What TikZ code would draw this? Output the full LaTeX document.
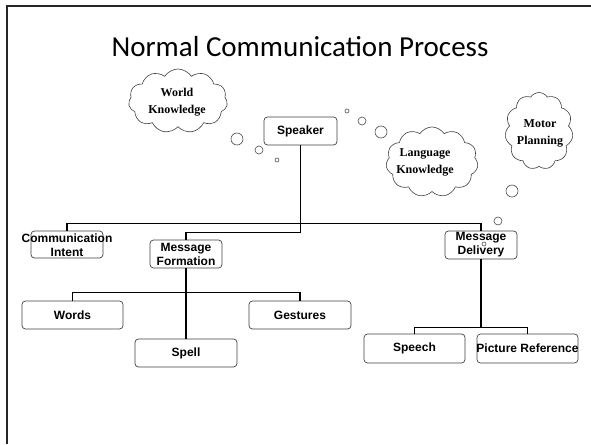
\documentclass[tikz,border=0pt]{standalone}
\usepackage{fontspec}
\newfontfamily\calibf{Carlito}
\newfontfamily\arialf{Liberation Sans}
\newfontfamily\timesf{Liberation Serif}
\usetikzlibrary{shapes.symbols}
\tikzset{
  box/.style={draw=black!75, line width=0.7pt, rounded corners=3.5pt, inner sep=0pt, fill=white},
  boxtext/.style={font=\arialf\bfseries\fontsize{12}{14}\selectfont, align=center, inner sep=0pt},
  cloudshape/.style={cloud, cloud puffs=11, cloud puff arc=115, cloud ignores aspect, draw=black!75, line width=0.6pt, inner sep=0pt},
  cloudtext/.style={font=\timesf\bfseries\fontsize{12}{17}\selectfont, align=center, inner sep=0pt},
  bubble/.style={draw=black!70, line width=0.6pt},
  conn/.style={line width=1.5pt, black},
  frame/.style={line width=2pt, black!85}
}
\begin{document}
\begin{tikzpicture}[x=1pt, y=-1pt]
\useasboundingbox (0,0) rectangle (591,444);
% slide frame
\draw[frame] (7,444) -- (7,6) -- (591,6);
% title
\node[font=\calibf\fontsize{29}{34}\selectfont, inner sep=0pt] (title) at (300,47) {Normal Communication Process};

% clouds
\node[cloudshape, minimum width=99pt, minimum height=64pt] (wkc) at (178,101) {};
\node[cloudtext] (wkt) at (177,102) {World\\Knowledge};
\node[cloudshape, minimum width=92pt, minimum height=70pt] (lkc) at (432,162) {};
\node[cloudtext] (lkt) at (425,162) {Language\\Knowledge};
\node[cloudshape, minimum width=68pt, minimum height=77pt] (mpc) at (539,131) {};
\node[cloudtext] (mpt) at (540,133) {Motor\\Planning};

% thought bubbles
\draw[bubble] (237,139) circle (6);
\draw[bubble] (259,150) circle (4);
\draw[bubble] (277,160) circle (2);
\draw[bubble] (347,111) circle (2);
\draw[bubble] (362,121) circle (4);
\draw[bubble] (381,132) circle (6);
\draw[bubble] (512,191) circle (6);
\draw[bubble] (498,221) circle (4);

% boxes
\node[box, minimum width=73pt, minimum height=28pt] (sp) at (300.5,131) {};
\node[boxtext] (spt) at (sp) {Speaker};
\node[box, minimum width=72pt, minimum height=27pt] (ci) at (67,244.5) {};
\node[box, minimum width=72pt, minimum height=28pt] (mf) at (186,254) {};
\node[box, minimum width=72pt, minimum height=28pt] (md) at (481,245) {};
\node[box, minimum width=101pt, minimum height=28pt] (wo) at (72.5,315) {};
\node[box, minimum width=102pt, minimum height=28pt] (ge) at (300,315) {};
\node[box, minimum width=102pt, minimum height=28pt] (sl) at (186,353) {};
\node[box, minimum width=101pt, minimum height=29pt] (sh) at (414.5,348.5) {};
\node[box, minimum width=101pt, minimum height=29pt] (pr) at (527.5,348.5) {};

% connectors
\draw[conn] (sp.south) -- ++(0,78) coordinate (j1);
\draw[conn] (ci.north) -- (ci.north |- j1) -- (md.north |- j1) -- (md.north);
\draw[conn] (j1) -- ++(0,9) coordinate (j2) -| (mf.north);
\draw[conn] (mf.south) -- (sl.north);
\draw[conn] (wo.north) -- ++(0,-8) coordinate (j4) -| (ge.north);
\draw[conn] (md.south) -- ++(0,68) coordinate (j3);
\draw[conn] (sh.north) |- (j3) -| (pr.north);

% box texts
\node[boxtext] (cit) at (67,245) {Communication\\Intent};
\node[boxtext] (mft) at (186,254) {Message\\Formation};
\node[boxtext] (mdt) at (481,245) {Message\\Delivery};
\node[boxtext] (wot) at (wo) {Words};
\node[boxtext] (get) at (ge) {Gestures};
\node[boxtext] (slt) at (sl) {Spell};
\node[boxtext] (sht) at (sh) {Speech};
\node[boxtext] (prt) at (pr) {Picture Reference};

% small bubble over Message Delivery
\draw[bubble] (484,244) circle (2);
\end{tikzpicture}
\end{document}
